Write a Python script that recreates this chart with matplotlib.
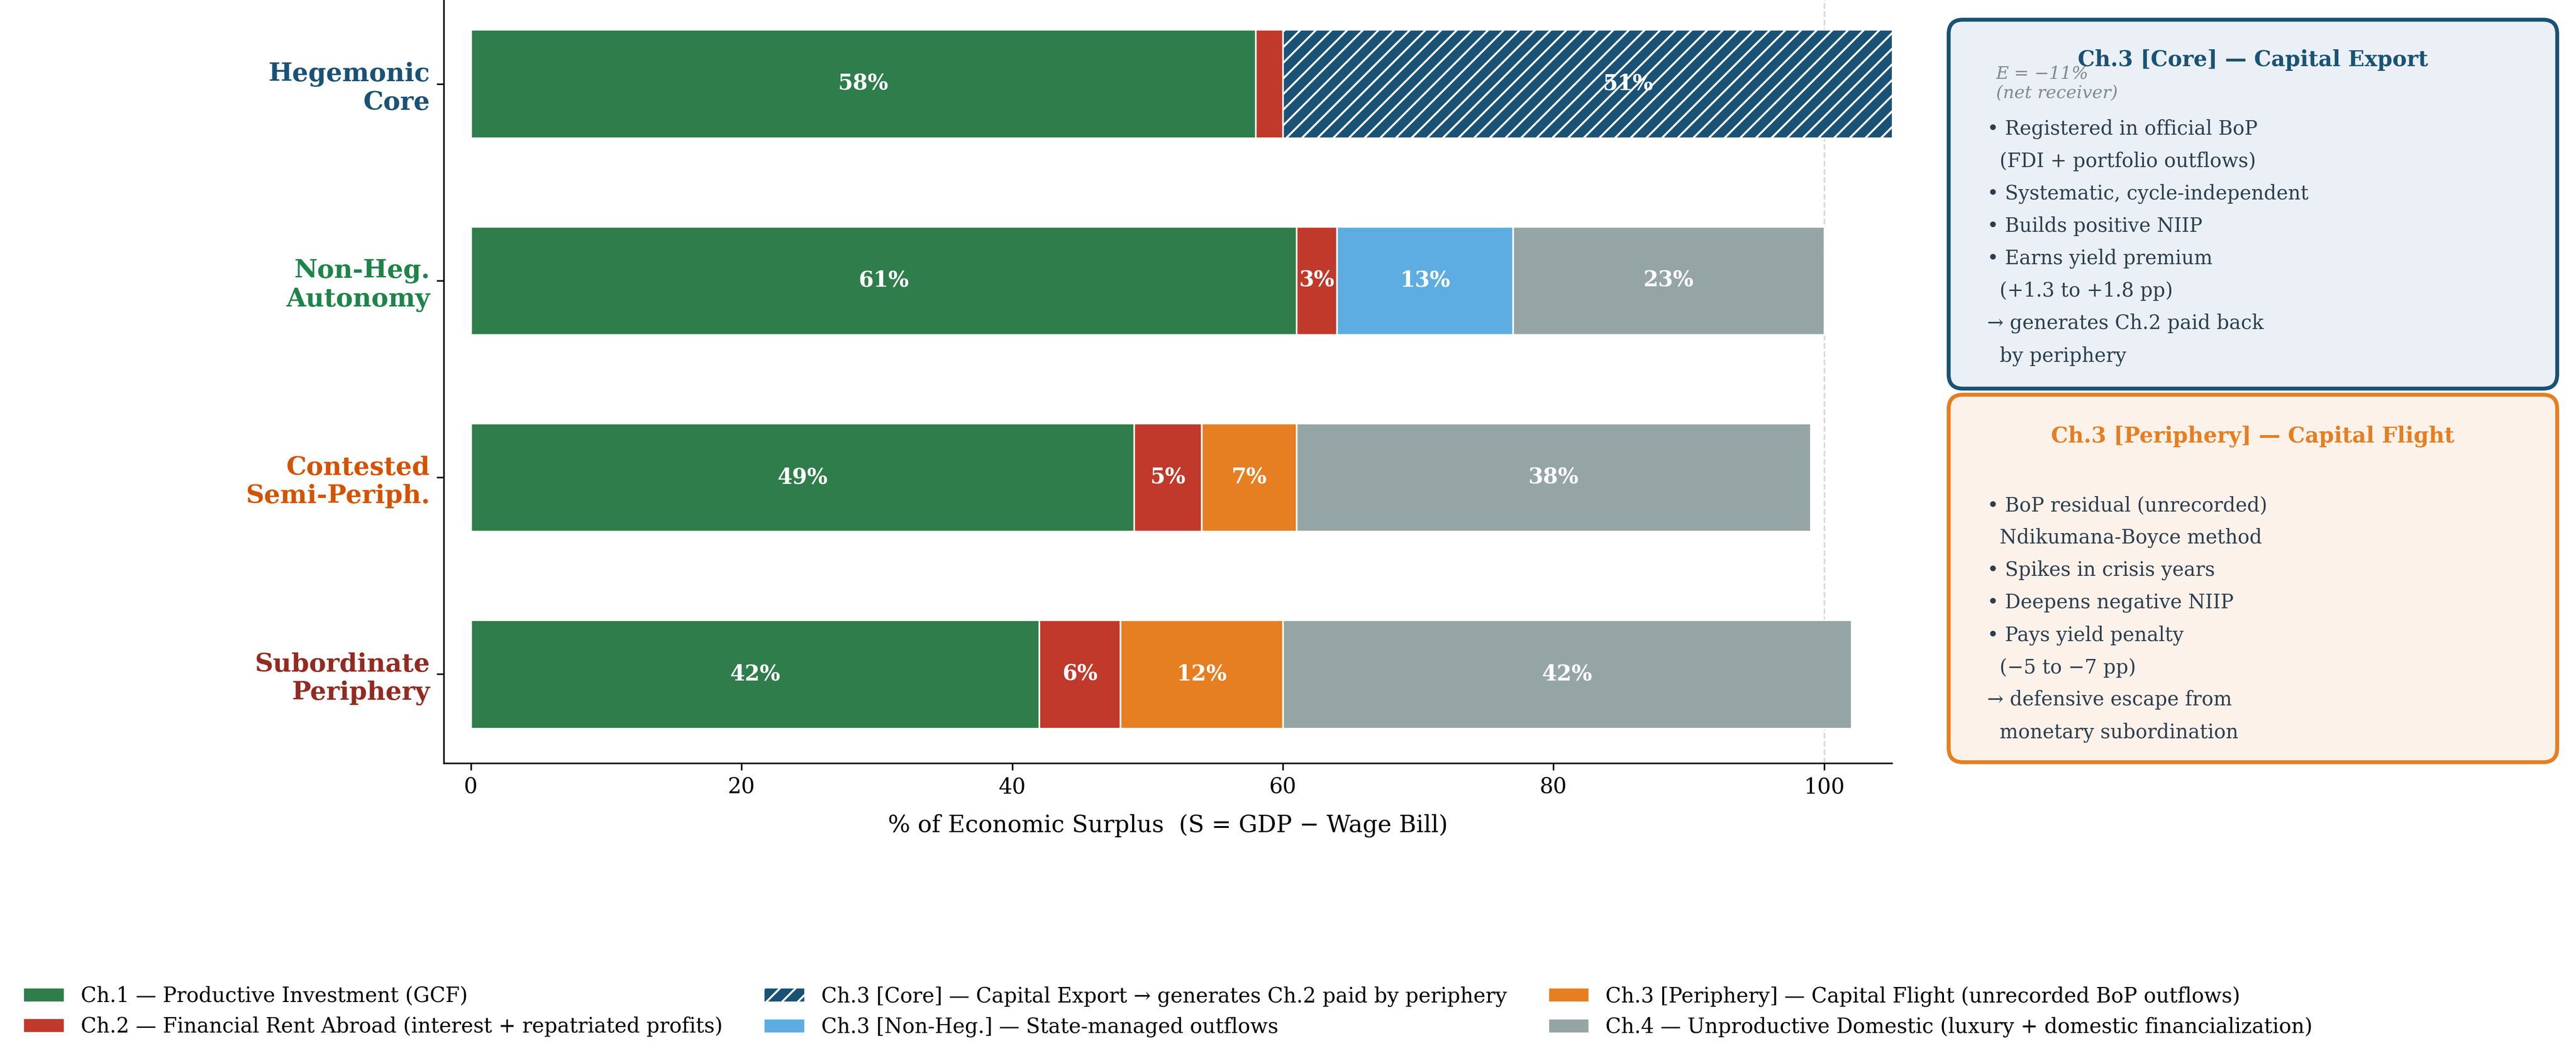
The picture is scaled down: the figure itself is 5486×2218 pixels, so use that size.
import numpy as np
import matplotlib
matplotlib.use("Agg")
import matplotlib.pyplot as plt
from matplotlib.patches import FancyBboxPatch

plt.rcParams['font.family'] = ['DejaVu Serif', 'DejaVu Sans']

# ---- data ----
regions = ["Hegemonic\nCore", "Non-Heg.\nAutonomy", "Contested\nSemi-Periph.", "Subordinate\nPeriphery"]
region_colors = ["#1a5276", "#1e8449", "#d35400", "#922b21"]

ch1 = [58, 61, 49, 42]
ch2 = [2, 3, 5, 6]
ch3_core = [51, 0, 0, 0]
ch3_nonheg = [0, 13, 0, 0]
ch3_periph = [0, 0, 7, 12]
ch4 = [0, 23, 38, 42]

series = [
    ("Ch.1 — Productive Investment (GCF)", ch1, "#2e7d4a", None),
    ("Ch.2 — Financial Rent Abroad (interest + repatriated profits)", ch2, "#c0392b", None),
    ("Ch.3 [Core] — Capital Export → generates Ch.2 paid by periphery", ch3_core, "#1a5276", "///"),
    ("Ch.3 [Non-Heg.] — State-managed outflows", ch3_nonheg, "#5dade2", None),
    ("Ch.3 [Periphery] — Capital Flight (unrecorded BoP outflows)", ch3_periph, "#e67e22", None),
    ("Ch.4 — Unproductive Domestic (luxury + domestic financialization)", ch4, "#95a5a6", None),
]

core_note = "E = −11%\n(net receiver)"

core_title = "Ch.3 [Core] — Capital Export"
core_lines = [
    "• Registered in official BoP",
    "  (FDI + portfolio outflows)",
    "• Systematic, cycle-independent",
    "• Builds positive NIIP",
    "• Earns yield premium",
    "  (+1.3 to +1.8 pp)",
    "→ generates Ch.2 paid back",
    "  by periphery",
]
periph_title = "Ch.3 [Periphery] — Capital Flight"
periph_lines = [
    "• BoP residual (unrecorded)",
    "  Ndikumana-Boyce method",
    "• Spikes in crisis years",
    "• Deepens negative NIIP",
    "• Pays yield penalty",
    "  (−5 to −7 pp)",
    "→ defensive escape from",
    "  monetary subordination",
]

# ---- figure ----
W, H = 5486, 2218
fig = plt.figure(figsize=(W / 300, H / 300), dpi=300)
ax = fig.add_axes([945 / W, 1 - 1626 / H, 3084 / W, 1637 / H])
ax.set_zorder(1)
ax.patch.set_alpha(0)

y = np.arange(len(regions))
left = np.zeros(len(regions))
for name, vals, color, hatch in series:
    vals = np.array(vals, dtype=float)
    ax.barh(y, vals, left=left, height=0.55, color=color, edgecolor="white",
            linewidth=0.8, hatch=hatch, label=name)
    for i, v in enumerate(vals):
        if v >= 3:
            ax.text(left[i] + v / 2, y[i], f"{v:.0f}%", ha="center", va="center",
                    color="white", fontsize=11, fontweight="bold")
    left += vals

# note next to the overflowing core bar
ax.text(left[0] + 1.7, y[0], core_note, ha="left", va="center", fontsize=9,
        style="italic", color="#7f8c8d", clip_on=False)

ax.axvline(100, color="#d5d8dc", ls="--", lw=0.8, zorder=0)

ax.set_xlim(-2, 105)
ax.invert_yaxis()
ax.set_yticks(y)
ax.set_yticklabels(regions, fontsize=13, fontweight="bold")
for lab, c in zip(ax.get_yticklabels(), region_colors):
    lab.set_color(c)
ax.tick_params(axis="x", labelsize=11)
ax.set_xlabel("% of Economic Surplus  (S = GDP − Wage Bill)", fontsize=12, labelpad=8)
ax.spines["top"].set_visible(False)
ax.spines["right"].set_visible(False)

ax.legend(loc="upper center", bbox_to_anchor=(0.5, -0.266), ncol=3,
          frameon=False, fontsize=10.5)

# ---- side boxes ----
def side_box(top, bottom, edge, face, title, lines, title_y, body_y):
    x0, x1 = 4150 / W, 5446 / W
    y0, y1 = 1 - bottom / H, 1 - top / H
    box = FancyBboxPatch((x0, y0), x1 - x0, y1 - y0, transform=fig.transFigure,
                         boxstyle="round,pad=0,rounding_size=0.0055",
                         mutation_aspect=W / H, facecolor=face, edgecolor=edge,
                         linewidth=2.0, zorder=-1)
    fig.patches.append(box)
    fig.text((x0 + x1) / 2, 1 - title_y / H, title, ha="center", va="center",
             fontsize=11, fontweight="bold", color=edge)
    fig.text(4232 / W, 1 - body_y / H, "\n".join(lines), ha="left", va="top",
             fontsize=10, color="#2c3e50", linespacing=1.81)

side_box(42, 828, "#1a5276", "#eaf0f5", core_title, core_lines, 128, 254)
side_box(841, 1624, "#e67e22", "#fdf2e9", periph_title, periph_lines, 930, 1056)

fig.savefig("out.png", dpi=300)
